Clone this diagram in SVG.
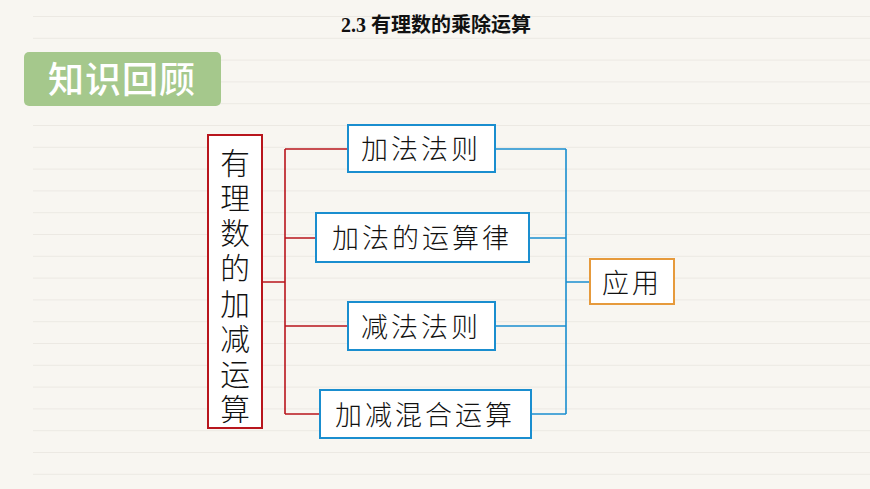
<svg xmlns="http://www.w3.org/2000/svg" width="870" height="489" viewBox="0 0 870 489">
<defs>
<pattern id="ruled" x="0" y="16" width="870" height="21.8" patternUnits="userSpaceOnUse">
<line x1="33" y1="0.5" x2="870" y2="0.5" stroke="#ece9e3" stroke-width="1"/>
</pattern>
</defs>
<style>
.t{font-family:"Noto Sans CJK SC","Liberation Serif",serif;fill:#111}
.kai{font-family:"Noto Sans CJK SC",serif;font-weight:300;font-size:27px;fill:#111}
.bb{fill:#fff;stroke:#1a8ecf;stroke-width:2}
.red{fill:none;stroke:#b8161d;stroke-width:1.6}
.blue{fill:none;stroke:#1a8ecf;stroke-width:1.6}
</style>
<rect width="870" height="489" fill="#f8f6f1"/>
<rect width="870" height="489" fill="url(#ruled)"/>
<text x="436" y="32" text-anchor="middle" class="t" font-size="20" font-weight="bold"><tspan font-family="Liberation Serif">2.3 </tspan>有理数的乘除运算</text>
<g id="badge">
<rect x="24" y="52" width="197" height="54" rx="5" fill="#a5c88c"/>
<text x="122" y="93" text-anchor="middle" font-family="Noto Sans CJK SC,sans-serif" font-size="36" font-weight="500" fill="#fff" letter-spacing="1">知识回顾</text>
</g>
<g id="connectors">
<path class="red" d="M262 282 H285 M285 149 V414 M285 149 H348 M285 238 H316 M285 326 H348 M285 414 H320"/>
<path class="blue" d="M495 149 H566 M529 238 H566 M495 326 H566 M531 414 H566 M566 149 V414 M566 282 H590"/>
</g>
<g id="root">
<rect x="208" y="135" width="54" height="293" fill="#fff" stroke="#b8161d" stroke-width="2"/>
<text class="kai" text-anchor="middle" x="235" font-size="23" transform="translate(235 0) scale(1.1 1.1) translate(-235 0)"><tspan x="235" y="158">有</tspan><tspan x="235" y="190">理</tspan><tspan x="235" y="222">数</tspan><tspan x="235" y="254">的</tspan><tspan x="235" y="286">加</tspan><tspan x="235" y="318">减</tspan><tspan x="235" y="350">运</tspan><tspan x="235" y="382">算</tspan></text>
</g>
<g id="n1"><rect class="bb" x="348" y="125" width="147" height="47"/><text class="kai" x="421" y="159" text-anchor="middle" letter-spacing="3">加法法则</text></g>
<g id="n2"><rect class="bb" x="316" y="213" width="213" height="49"/><text class="kai" x="422" y="248" text-anchor="middle" letter-spacing="3">加法的运算律</text></g>
<g id="n3"><rect class="bb" x="348" y="302" width="147" height="48"/><text class="kai" x="421" y="337" text-anchor="middle" letter-spacing="3">减法法则</text></g>
<g id="n4"><rect class="bb" x="320" y="390" width="211" height="48"/><text class="kai" x="425" y="425" text-anchor="middle" letter-spacing="3">加减混合运算</text></g>
<g id="n5"><rect x="590" y="259" width="84" height="45" fill="#fff" stroke="#e69a3c" stroke-width="2"/><text class="kai" x="632" y="293" text-anchor="middle" letter-spacing="3">应用</text></g>
</svg>
